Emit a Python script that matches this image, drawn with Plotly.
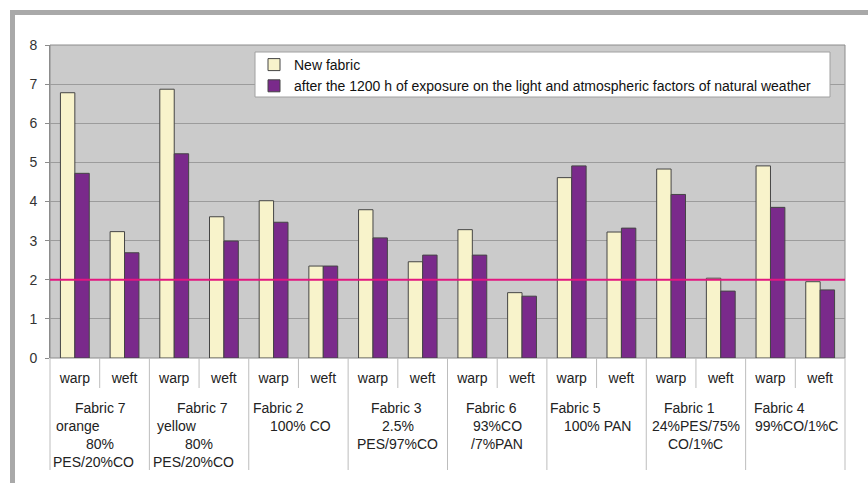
import plotly.graph_objects as go

# ---- data -------------------------------------------------------------
directions = ["warp", "weft"] * 8
new_fabric = [6.78, 3.23, 6.87, 3.61, 4.02, 2.35, 3.79, 2.46,
              3.28, 1.67, 4.61, 3.22, 4.83, 2.04, 4.91, 1.95]
after_exposure = [4.72, 2.69, 5.22, 2.99, 3.47, 2.35, 3.07, 2.63,
                  2.63, 1.58, 4.91, 3.32, 4.18, 1.71, 3.85, 1.74]
fabric_labels = [
    ["Fabric 7", "orange", "80%", "PES/20%CO"],
    ["Fabric 7", "yellow", "80%", "PES/20%CO"],
    ["Fabric 2", "100% CO"],
    ["Fabric 3", "2.5%", "PES/97%CO"],
    ["Fabric 6", "93%CO", "/7%PAN"],
    ["Fabric 5", "100% PAN"],
    ["Fabric 1", "24%PES/75%", "CO/1%C"],
    ["Fabric 4", "99%CO/1%C"],
]
threshold = 2
series_names = ["New fabric",
                "after the 1200 h of exposure on the light and atmospheric factors of natural weather"]

# ---- layout helpers ---------------------------------------------------
# horizontal nudges (px) of each wrapped label line, mimicking the
# spreadsheet's wrapping of padded text
label_shift = [
    [1, -22, 0, -6],
    [3, -22, 0, -6],
    [-20, 2],
    [-1, 0, 0],
    [-6, 0, 0],
    [-21, 1],
    [-6, 0, 0],
    [-16, 1],
]

W, H = 868, 483
M_L, M_R, M_T, M_B = 50, 23, 45, 125
PW, PH = W - M_L - M_R, H - M_T - M_B


def py(pix):
    """pixel row -> paper y"""
    return (H - M_B - pix) / PH


def px(pix):
    """pixel column -> paper x"""
    return (pix - M_L) / PW


FONT = "Liberation Sans, Arial, sans-serif"
FS = 14
x = list(range(len(directions)))
xr = [-0.5, len(directions) - 0.5]

fig = go.Figure()
fig.add_bar(x=x, y=new_fabric, name=series_names[0],
            marker=dict(color="#F8F3CB", line=dict(color="#454545", width=1)))
fig.add_bar(x=x, y=after_exposure, name=series_names[1],
            marker=dict(color="#7A2A8B", line=dict(color="#454545", width=1)))

shapes = []
# limit line
shapes.append(dict(type="line", xref="paper", yref="y", x0=0, x1=1,
                   y0=threshold, y1=threshold,
                   line=dict(color="#E2177F", width=2)))
# plot-area frame
shapes.append(dict(type="rect", xref="paper", yref="paper", x0=0, x1=1, y0=0, y1=1,
                   line=dict(color="#8c8c8c", width=1), layer="below"))
# category-axis dividers
span = xr[1] - xr[0]
for k in range(len(directions) + 1):
    xp = k / span
    long_line = (k % 2 == 0)
    shapes.append(dict(type="line", xref="paper", yref="paper", x0=xp, x1=xp,
                       y0=0, y1=py(470 if long_line else 388),
                       line=dict(color="#bdbdbd", width=1)))
# legend box
shapes.append(dict(type="rect", xref="paper", yref="paper",
                   x0=px(255), x1=px(830), y0=py(97), y1=py(52),
                   fillcolor="white", line=dict(color="#a0a0a0", width=1),
                   layer="above"))
# outer chart frame
shapes.append(dict(type="rect", xref="paper", yref="paper",
                   x0=px(12.5), x1=px(920), y0=py(540), y1=py(12.5),
                   line=dict(color="#A9A9A9", width=5)))

annotations = []
line_rows = [408, 426, 444, 462]
for g, lines in enumerate(fabric_labels):
    center = 2 * g + 0.5
    for i, txt in enumerate(lines):
        annotations.append(dict(text=txt, x=center, xref="x", y=py(line_rows[i]),
                                yref="paper", xanchor="center", yanchor="middle",
                                xshift=label_shift[g][i], showarrow=False,
                                font=dict(family=FONT, size=FS, color="#222222")))

fig.update_layout(
    width=W, height=H,
    margin=dict(l=M_L, r=M_R, t=M_T, b=M_B),
    paper_bgcolor="white",
    plot_bgcolor="#CBCBCB",
    barmode="group", bargap=0.42, bargroupgap=0,
    font=dict(family=FONT, size=FS, color="#222222"),
    showlegend=True,
    legend=dict(x=px(254), y=py(49), xanchor="left", yanchor="top",
                bgcolor="rgba(0,0,0,0)", borderwidth=0,
                font=dict(family=FONT, size=FS, color="#111111"),
                itemwidth=30),
    xaxis=dict(range=xr, tickmode="array", tickvals=x, ticktext=directions,
               ticks="", showgrid=False, zeroline=False, showline=False,
               ticklabelstandoff=10,
               tickfont=dict(family=FONT, size=FS, color="#222222")),
    yaxis=dict(range=[0, 8], dtick=1, showgrid=True, gridcolor="#9c9c9c",
               gridwidth=1.2, zeroline=False, showline=True, linecolor="#8c8c8c",
               ticks="outside", ticklen=4, tickcolor="#8c8c8c",
               ticklabelstandoff=5,
               tickfont=dict(family=FONT, size=FS, color="#333333")),
    shapes=shapes,
    annotations=annotations,
)

fig.write_html("out.html")
